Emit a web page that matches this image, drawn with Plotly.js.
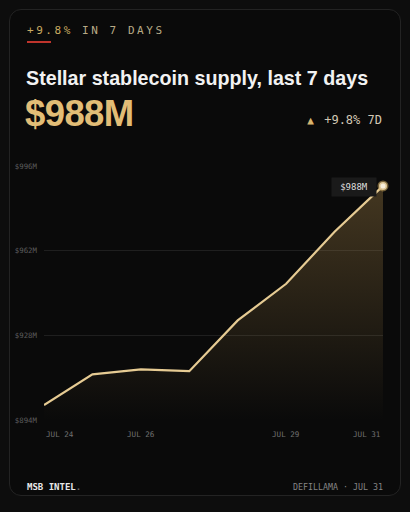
<!DOCTYPE html>
<html>
<head>
<meta charset="utf-8">
<script src="https://cdn.plot.ly/plotly-3.0.1.min.js"></script>
<style>
  html, body { margin:0; padding:0; background:#0d0d0d; width:410px; height:512px; overflow:hidden; }
  #card { position:absolute; left:9px; top:9px; width:390px; height:485px; border:1px solid #232323; border-radius:12px; background:#0a0a0a; }
  #chart { position:absolute; left:0; top:0; width:410px; height:512px; }
  .t { position:absolute; white-space:nowrap; }
  #kicker { left:27px; top:24px; font-family:"DejaVu Sans Mono", monospace; font-size:11px; letter-spacing:2.55px; color:#b8aa86; }
  #kicker span { color:#c9aa62; }
  #redline { position:absolute; left:27px; top:41px; width:24px; height:2px; background:#c0342c; }
  #title { left:26px; top:67px; font-family:"Liberation Sans", Arial, sans-serif; font-weight:bold; font-size:19.7px; color:#f2f2f2; }
  #big { left:25px; top:93px; font-family:"Liberation Sans", Arial, sans-serif; font-weight:bold; font-size:36.5px; color:#e2bd76; letter-spacing:-0.6px; }
  #delta { right:28px; top:113px; font-family:"DejaVu Sans Mono", monospace; font-size:12px; color:#d2c8b4; }
  #delta span { color:#d9b56e; font-size:11px; margin-right:3px; }
  #brand { left:27px; top:482px; font-family:"DejaVu Sans Mono", monospace; font-weight:bold; font-size:9px; color:#e8e8e8; }
  #brand span { color:#666; }
  #src { right:27px; top:482px; font-family:"DejaVu Sans Mono", monospace; font-size:8.3px; color:#858585; }
</style>
</head>
<body>
<div id="card"></div>
<div id="chart"></div>
<div id="redline"></div>
<div class="t" id="kicker"><span>+9.8%</span> IN 7 DAYS</div>
<div class="t" id="title">Stellar stablecoin supply, last 7 days</div>
<div class="t" id="big">$988M</div>
<div class="t" id="delta"><span>▲</span> +9.8% 7D</div>
<div class="t" id="brand">MSB INTEL<span>.</span></div>
<div class="t" id="src">DEFILLAMA · JUL 31</div>
<script>
// Data (USD millions)
const days = ["JUL 24","JUL 25","JUL 26","JUL 27","JUL 28","JUL 29","JUL 30","JUL 31"];
const supply = [900, 912.3, 914.3, 913.6, 934, 948.7, 969.6, 988];
const yTicks = [894, 928, 962, 996];
const yTickText = ["$894M","$928M","$962M","$996M"];
const xLabelDays = ["JUL 24","JUL 26","JUL 29","JUL 31"];
const lastLabel = "$988M";

const area = {
  x: days, y: supply, type:"scatter", mode:"lines",
  line:{color:"#e6cb93", width:2.2, shape:"linear"},
  fill:"tozeroy",
  fillgradient:{type:"vertical", start:894, stop:988,
    colorscale:[[0,"rgba(190,150,80,0.0)"],[1,"rgba(190,150,80,0.32)"]]},
  hoverinfo:"skip", showlegend:false
};
const endPt = {
  x:[days[days.length-1]], y:[supply[supply.length-1]], type:"scatter", mode:"markers",
  marker:{size:8, color:"#f6eedb", line:{color:"rgba(200,165,95,0.55)", width:3}},
  hoverinfo:"skip", showlegend:false, cliponaxis:false
};

const mono = "DejaVu Sans Mono, monospace";
const annotations = xLabelDays.map((d,i)=>({
  x:d, xref:"x", y:0, yref:"paper", yanchor:"top", yshift:-8,
  xanchor: i===0 ? "left" : (i===xLabelDays.length-1 ? "right" : "center"),
  text:d, showarrow:false, font:{family:mono, size:7.6, color:"#707070"}
}));
annotations.push({
  x:days[days.length-1], y:supply[supply.length-1], xref:"x", yref:"y",
  xanchor:"right", yanchor:"middle", xshift:-6, yshift:-1, text:lastLabel, showarrow:false,
  font:{family:mono, size:9, color:"#dedede"}, bgcolor:"#1a1a1a", borderpad:4, width:36
});

const layout = {
  width:410, height:512,
  margin:{l:44, r:27, t:166, b:92, pad:0},
  paper_bgcolor:"rgba(0,0,0,0)", plot_bgcolor:"rgba(0,0,0,0)",
  xaxis:{type:"category", range:[0,7], showgrid:false, zeroline:false, showticklabels:false, ticks:"", showline:false, fixedrange:true},
  yaxis:{range:[894,996], tickvals:yTicks, ticktext:yTickText, showgrid:true, gridcolor:"#1f1f1f", gridwidth:1,
         zeroline:false, showline:false, ticks:"", ticklabelstandoff:6,
         tickfont:{family:mono, size:7.4, color:"#5c5c5c"}, fixedrange:true},
  annotations:annotations,
  showlegend:false
};
Plotly.newPlot("chart", [area, endPt], layout, {staticPlot:true, displayModeBar:false});
</script>
</body>
</html>
